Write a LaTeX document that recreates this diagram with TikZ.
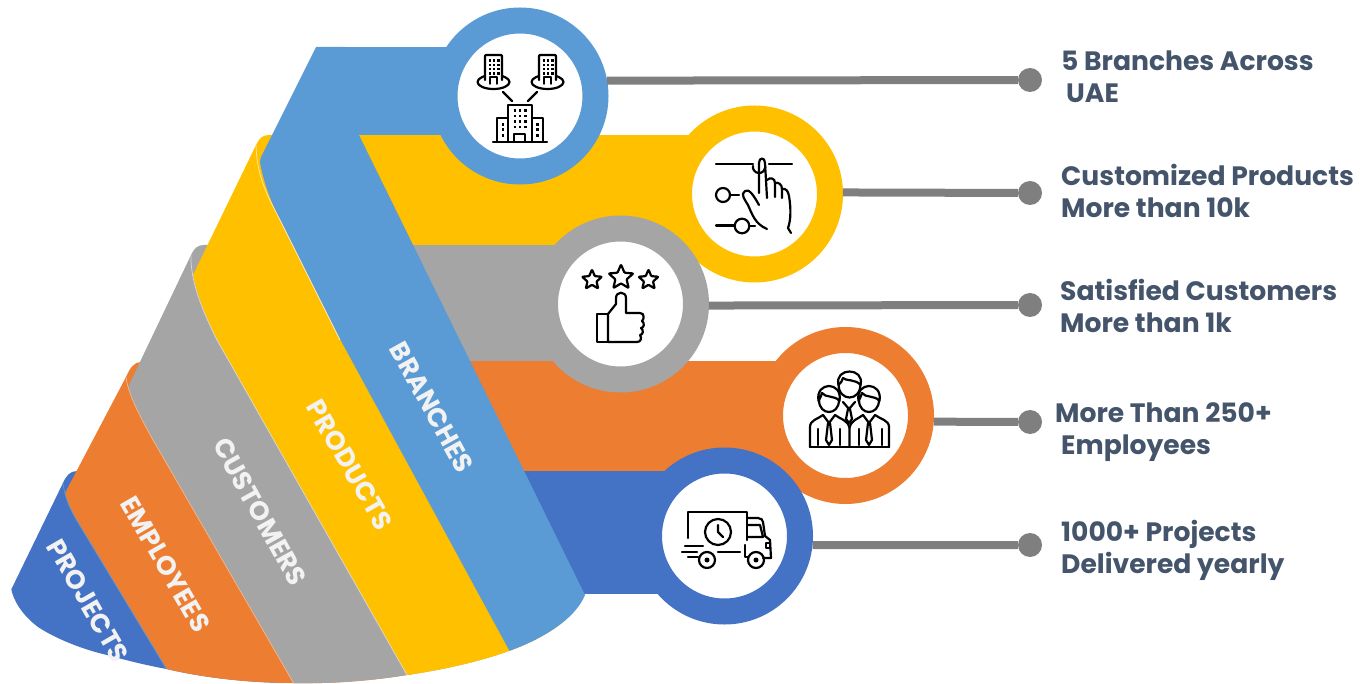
\documentclass[tikz,border=0pt]{standalone}
\usepackage{fontspec}
\setmainfont{Poppins}
\usetikzlibrary{shapes.geometric}
\definecolor{cbl}{HTML}{5B9BD5}
\definecolor{cye}{HTML}{FFC000}
\definecolor{cgr}{HTML}{A5A5A5}
\definecolor{cor}{HTML}{ED7D31}
\definecolor{cdb}{HTML}{4472C4}
\definecolor{ctx}{HTML}{44546A}
\definecolor{cln}{HTML}{7F7F7F}
\tikzset{
  ring/.style={circle,draw=#1,fill=white,line width=26pt,minimum size=151pt,inner sep=0pt},
  dotend/.style={circle,fill=cln,minimum size=24pt,inner sep=0pt},
  link/.style={draw=cln,line width=8pt},
  lbl/.style={anchor=base west,inner sep=0pt,text=ctx,font=\fontsize{26.6}{32.5}\selectfont\bfseries,align=left},
  striplbl/.style={inner sep=0pt,text=white!95!black,font=\fontsize{26.5}{30}\selectfont\bfseries},
  icon/.style={draw=black,line width=2.2pt,line cap=round,line join=round},
  hl/.style={draw=#1,line width=.7pt},
}
\begin{document}
\begin{tikzpicture}[x=1pt,y=-1pt]
\useasboundingbox (0,0) rectangle (1360,684);
% bands
\fill[cbl] (330,47) rectangle (520,135);
\fill[cye] (345,135) rectangle (754,245);
\fill[cgr] (395,245) rectangle (620,361);
\fill[cor] (440,361) rectangle (845,471);
\fill[cdb] (500,471) rectangle (724,594);
% rings
\node[ring=cye] (c2) at (754.5,194) {};
\node[ring=cbl] (c1) at (520,96) {};
\node[ring=cgr] (c3) at (620.5,304) {};
\node[ring=cor] (c4) at (845.5,415.5) {};
\node[ring=cdb] (c5) at (724.5,536) {};
% fan
\begin{scope}
\clip (0,0) -- (0,590) -- (11,588) .. controls (13,600) and (22,615) .. (38,627) .. controls (58,640) and (85,650) .. (107,655) .. controls (125,660) and (145,665) .. (166.5,669) .. controls (205,678) and (250,683) .. (293.5,683) .. controls (330,684) and (370,681) .. (407,675) .. controls (442,670) and (478,662) .. (509,651) .. controls (540,640) and (575,620) .. (585,595) -- (700,595) -- (700,0) -- cycle;
% projects
\fill[cdb] (11,590) -- (63,483) .. controls (66,476) and (70,471) .. (77,471) -- (220,471) -- (320,700) -- (0,700) -- cycle;
% employees
\fill[cor] (65,493) -- (126,377) .. controls (130,368) and (134,362) .. (141,362) -- (320,362) -- (420,700) -- (185,700) -- (166.5,669) -- (76.5,520) .. controls (72,512) and (67,503) .. (65,493) -- cycle;
\draw[hl=cbl] (63,483) .. controls (65,500) and (72,512) .. (76.5,520) -- (166.5,669);
% customers
\fill[cgr] (128,387) -- (192,253) .. controls (195,248) and (198,245) .. (204,245) -- (400,245) -- (520,700) -- (303,700) -- (293.5,683) -- (153,440) .. controls (142,420) and (131,400) .. (128,387) -- cycle;
\draw[hl=cor!55!white] (126,377) .. controls (128,395) and (142,420) .. (153,440) -- (293.5,683);
% products
\fill[cye] (193,275) -- (257,143) .. controls (260,138) and (263,135) .. (269,135) -- (360,135) -- (600,700) -- (421,700) -- (407,675) -- (217,340) .. controls (207,320) and (197,295) .. (193,275) -- cycle;
\draw[hl=gray!30!white] (191,255) .. controls (190,285) and (207,320) .. (217,340) -- (407,675);
% branches
\fill[cbl] (316,47) -- (263,153) .. controls (261,157) and (260,159) .. (260,162) .. controls (263,180) and (270,200) .. (280,220) -- (340,340) -- (509,651) -- (535,700) -- (600,700) -- (585,595) -- (359,135) -- (345,47) -- cycle;
\draw[hl=white!70!cye] (256,145) .. controls (257,180) and (270,200) .. (280,220) -- (340,340);
\draw[hl=cye] (340,340) -- (509,651);
\end{scope}
% strip labels
\node[striplbl,rotate=-61] (t1) at (432,407.5) {BRANCHES};
\node[striplbl,rotate=-60] (t2) at (350,465) {PRODUCTS};
\node[striplbl,rotate=-61] (t3) at (260,512) {CUSTOMERS};
\node[striplbl,rotate=-60] (t4) at (165.5,564) {EMPLOYEES};
\node[striplbl,rotate=-60] (t5) at (88,601) {PROJECTS};
% connectors
\node[dotend] (d1) at (1030,80) {};
\node[dotend] (d2) at (1030,193) {};
\node[dotend] (d3) at (1030,305) {};
\node[dotend] (d4) at (1030,422) {};
\node[dotend] (d5) at (1030,545) {};
\draw[link] (c1.10) -- (d1);
\draw[link] (c2.1) -- (d2);
\draw[link] (c3.-1) -- (d3);
\draw[link] (c4.-4) -- (d4);
\draw[link] (c5.-6) -- (d5);
% text
\node[lbl] (l1) at (1061,71) {5 Branches Across};
\node[lbl] (l1b) at (1066,103) {UAE};
\node[lbl] (l2) at (1061,186) {Customized Products};
\node[lbl] (l2b) at (1061,218) {More than 10k};
\node[lbl] (l3) at (1060,301) {Satisfied Customers};
\node[lbl] (l3b) at (1060,333) {More than 1k};
\node[lbl] (l4) at (1055,422) {More Than 250+};
\node[lbl] (l4b) at (1061,454) {Employees};
\node[lbl] (l5) at (1061,541) {1000+ Projects};
\node[lbl] (l5b) at (1061,573) {Delivered yearly};
% icon 1
\foreach \bx in {485,539}{
  \draw[icon,fill=white] (\bx+8.5,82) ellipse (16 and 7);
  \draw[icon,fill=white,rounded corners=1pt] (\bx,80) -- (\bx,55) -- (\bx+17,55) -- (\bx+17,80);
  \draw[icon,fill=white,line width=1.5pt] (\bx+5,84) -- (\bx+5,77) -- (\bx+12,77) -- (\bx+12,84);
  \foreach \i in {0,1,2} \foreach \j in {0,1,2,3}
    \fill (\bx+3.8+\i*4.2,59.5+\j*4.3) rectangle +(2.4,2.4);
}
\draw[icon] (503,92) -- (512,101);
\draw[icon] (537,92) -- (528,101);
\draw[icon] (508,142) -- (508,105) -- (532,105) -- (532,142);
\draw[icon] (508,118) -- (497,118) -- (497,142);
\draw[icon] (532,118) -- (543,118) -- (543,142);
\draw[icon] (493,142) -- (547,142);
\draw[icon] (514,142) -- (514,134) -- (525,134) -- (525,142);
\foreach \i in {0,1,2} \foreach \j in {0,1,2,3}
  \fill (513.5+\i*5.2,109.5+\j*5.4) rectangle +(2.6,2.6);
\foreach \wx in {501.5,536} \foreach \j in {0,1,2}
  \fill (\wx,123+\j*5.5) rectangle +(2.6,2.6);
% icon 2
\draw[icon] (716,164) -- (753,164);
\draw[icon] (769,164) -- (792,164);
\draw[icon] (753,166) arc (190:0:6.2 and 6);
\draw[icon] (759,193) -- (759,163) .. controls (759,157) and (765,157) .. (765,163) -- (767,198);
\draw[icon] (767,180) .. controls (770,177) and (775,178) .. (775,183) -- (775,197);
\draw[icon] (775,183) .. controls (778,182) and (782,184) .. (782,189) -- (782,198);
\draw[icon] (782,189) .. controls (786,188) and (788,191) .. (789,196) .. controls (791,208) and (791,220) .. (788,228) -- (791,233);
\draw[icon] (759,205) .. controls (754,196) and (749,188) .. (745,191) .. controls (740,194) and (745,200) .. (748,205) .. controls (752,214) and (755,224) .. (767,229);
\draw[icon] (723,195) circle (7);
\draw[icon] (730,195) -- (739,195);
\draw[icon] (716,225.5) -- (735,225.5);
\draw[icon] (742,226) circle (7.3);
\draw[icon] (749,226) -- (755,226);
% icon 3
\node[star,star points=5,star point ratio=2.2,icon,rounded corners=.8pt,minimum size=21pt,inner sep=0pt] (s1) at (592,280) {};
\node[star,star points=5,star point ratio=2.2,icon,rounded corners=.8pt,minimum size=26pt,inner sep=0pt] (s2) at (621,277.5) {};
\node[star,star points=5,star point ratio=2.2,icon,rounded corners=.8pt,minimum size=21pt,inner sep=0pt] (s3) at (648.5,280) {};
\draw[icon] (608,314) -- (597,314) -- (597,342) -- (608,342);
\draw[icon] (608,342) -- (608,314) -- (616,304) -- (616,298) .. controls (616,291) and (626,291) .. (626,298) -- (626,313) -- (640,313) .. controls (645,313) and (644,320) .. (642,321) .. controls (645,323) and (644,328) .. (641,328) .. controls (644,330) and (643,335) .. (640,335) .. controls (642,338) and (641,342) .. (637,342) -- cycle;
% icon 4
\foreach \px in {829,869}{
  \draw[icon] (\px-10,400) .. controls (\px-10,416) and (\px+10,416) .. (\px+10,400);
  \draw[icon,fill=white] (\px-10.5,401) .. controls (\px-14,381) and (\px+14,381) .. (\px+10.5,401) .. controls (\px+6,395) and (\px-4,398) .. (\px-7,393) .. controls (\px-8,396) and (\px-9,399) .. (\px-10.5,401);
  \draw[icon] (\px-1,423) -- (\px-3,440) -- (\px,445) -- (\px+3,440) -- (\px+1,423) -- cycle;
  \draw[icon] (\px-6,415) -- (\px,423) -- (\px+6,415);
}
\draw[icon] (838.5,384) .. controls (838.5,402) and (860.5,402) .. (860.5,384);
\draw[icon,fill=white] (838.5,385) .. controls (834,367) and (865,367) .. (860.5,385) .. controls (856,379) and (845,381) .. (843,378) .. controls (842,381) and (841,383) .. (838.5,385);
\draw[icon] (848,409) -- (846,419) -- (849,423) -- (852,419) -- (850,409);
\draw[icon] (843,402) -- (849,409) -- (855,402);
\draw[icon] (810,447) -- (889,447);
\draw[icon] (810,447) -- (810,427) .. controls (810,420) and (818,419) .. (823,415);
\draw[icon] (835,415) .. controls (840,419) and (848,420) .. (849.5,428) -- (849.5,447);
\draw[icon] (863,415) .. controls (858,419) and (851,420) .. (849.5,428);
\draw[icon] (875,415) .. controls (880,419) and (889,420) .. (889,427) -- (889,447);
\foreach \vx in {818,840,859,882} \draw[icon] (\vx,429) -- (\vx,445);
% icon 5
\draw[icon] (688,538) -- (688,512) -- (747,512) -- (747,540);
\draw[icon] (718,532) circle (13);
\draw[icon] (718,525) -- (718,532) -- (723,537);
\draw[icon] (747,518) -- (758,518) .. controls (761,518) and (763,520) .. (763,522) -- (765,536) -- (770,540) -- (771,558) -- (763,558);
\draw[icon] (747,525) -- (760,525) -- (763,537) -- (747,537);
\draw[icon] (707,560) circle (8);
\fill (707,560) circle (2.5);
\draw[icon] (756,560) circle (8);
\fill (756,560) circle (2.5);
\draw[icon] (685,546) -- (703,546);
\draw[icon] (682,552) -- (697,552);
\draw[icon] (688,557) -- (698,557);
\draw[icon] (718,552) -- (740,552);
\draw[icon] (745,545) -- (745,557) -- (748,557);
\draw[icon] (766,543) -- (770,543) -- (770,548) -- (766,548) -- cycle;
\end{tikzpicture}
\end{document}
